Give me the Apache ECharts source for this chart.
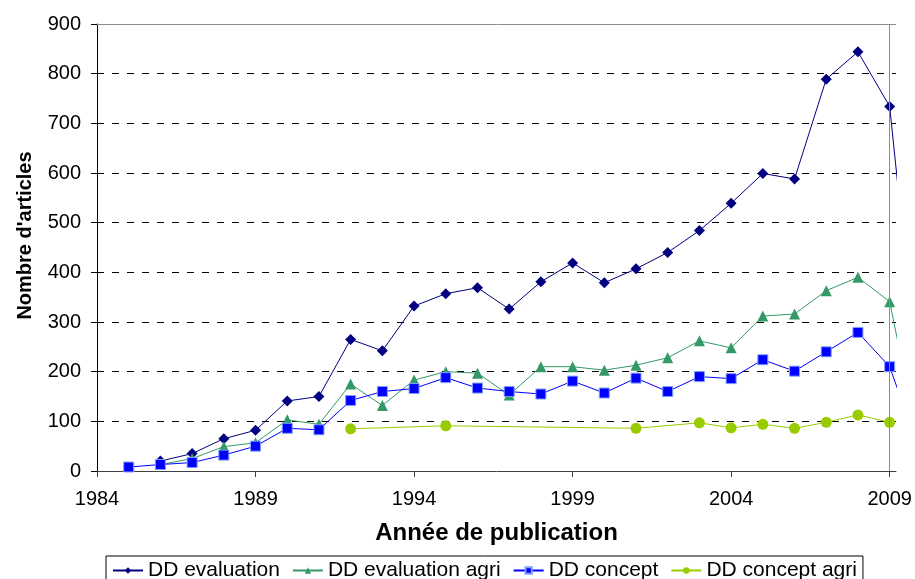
<!DOCTYPE html>
<html>
<head>
<meta charset="utf-8">
<script src="https://cdn.jsdelivr.net/npm/echarts@6/dist/echarts.min.js"></script>
<style>
  html, body { margin: 0; padding: 0; background: #fff; }
  #chart { width: 915px; height: 579px; }
</style>
</head>
<body>
<div id="chart"></div>
<script>
// données (1985 -> 2010)
var years = [1985, 1986, 1987, 1988, 1989, 1990, 1991, 1992, 1993, 1994, 1995, 1996, 1997,
  1998, 1999, 2000, 2001, 2002, 2003, 2004, 2005, 2006, 2007, 2008, 2009, 2010];
var evaluation = [null, 20, 35, 65, 82, 141, 150, 265, 242, 332, 357, 369, 326,
  381, 419, 379, 407, 440, 484, 539, 599, 588, 789, 844, 734, 117];
var evaluationAgri = [null, 13, 25, 49, 57, 103, 94, 175, 132, 183, 200, 197, 153,
  210, 210, 203, 213, 228, 262, 248, 312, 316, 363, 390, 341, 28];
var concept = [8, 13, 17, 32, 50, 86, 83, 142, 160, 166, 188, 167, 160,
  155, 181, 157, 187, 160, 190, 186, 224, 201, 240, 279, 210, 30];
var conceptAgri = [null, null, null, null, null, null, null, 85, null, null, 91, null, null,
  null, null, null, 86, null, 97, 87, 94, 86, 98, 113, 98, null];
var xTicks = [1984, 1989, 1994, 1999, 2004, 2009];
var seriesNames = ['DD evaluation', 'DD evaluation agri', 'DD concept', 'DD concept agri'];

var FONT = 'Liberation Sans, Arial, sans-serif';

function toPairs(values) {
  var out = [];
  for (var i = 0; i < years.length; i++) {
    if (values[i] !== null) out.push([years[i], values[i]]);
  }
  return out;
}

var myChart = echarts.init(document.getElementById('chart'));

var option = {
  animation: false,
  backgroundColor: '#fff',
  textStyle: { fontFamily: FONT, color: '#000' },
  grid: { left: 97, right: 19, top: 24, bottom: 108 },
  xAxis: {
    type: 'value',
    min: 1984,
    max: 2009.2,
    name: 'Année de publication',
    nameLocation: 'middle',
    nameGap: 50,
    nameTextStyle: { fontFamily: FONT, fontSize: 24, fontWeight: 'bold', color: '#000' },
    axisLine: { lineStyle: { color: '#404040', width: 1 } },
    axisTick: { customValues: xTicks, length: 6, lineStyle: { color: '#404040' } },
    axisLabel: {
      customValues: xTicks,
      formatter: function (v) { return String(v); },
      fontFamily: FONT, fontSize: 20, color: '#000', margin: 18
    },
    splitLine: { show: false }
  },
  yAxis: {
    type: 'value',
    min: 0,
    max: 900,
    interval: 100,
    name: "Nombre d'articles",
    nameLocation: 'middle',
    nameGap: 62,
    nameTextStyle: {
      fontFamily: FONT, fontSize: 20, fontWeight: 'bold', color: '#000',
      padding: [0, 0, 0, 24]
    },
    axisLine: { show: true, lineStyle: { color: '#000', width: 1 } },
    axisTick: { show: true, inside: false, length: 6, lineStyle: { color: '#000' } },
    axisLabel: { fontFamily: FONT, fontSize: 20, color: '#000', margin: 16 },
    splitLine: { show: true, lineStyle: { color: '#000', type: [7, 8], width: 1 } }
  },
  legend: {
    left: 106,
    top: 556,
    orient: 'horizontal',
    borderColor: '#000',
    borderWidth: 1,
    padding: [4, 6, 20, 6],
    itemGap: 12,
    itemWidth: 30,
    itemHeight: 8,
    textStyle: { fontFamily: FONT, fontSize: 21, color: '#000' },
    data: seriesNames
  },
  series: [
    {
      name: seriesNames[0],
      type: 'line',
      data: toPairs(evaluation),
      symbol: 'diamond',
      symbolSize: 11,
      clip: true,
      color: '#000080',
      lineStyle: { width: 1, color: '#000080' },
      itemStyle: { color: '#000080' },
      // bordure de la zone de tracé (haut et droite)
      markLine: {
        silent: true,
        symbol: 'none',
        label: { show: false },
        lineStyle: { color: '#8c8c8c', type: 'solid', width: 1 },
        data: [{ yAxis: 900 }, { xAxis: 2009 }]
      }
    },
    {
      name: seriesNames[1],
      type: 'line',
      data: toPairs(evaluationAgri),
      symbol: 'triangle',
      symbolSize: 11,
      clip: true,
      color: '#339966',
      lineStyle: { width: 1, color: '#339966' },
      itemStyle: { color: '#339966' }
    },
    {
      name: seriesNames[2],
      type: 'line',
      data: toPairs(concept),
      symbol: 'rect',
      symbolSize: 10,
      clip: true,
      color: '#0000ff',
      lineStyle: { width: 1, color: '#0000ff' },
      itemStyle: { color: '#0000ff', borderColor: '#7f9fff', borderWidth: 1 }
    },
    {
      name: seriesNames[3],
      type: 'line',
      data: toPairs(conceptAgri),
      symbol: 'circle',
      symbolSize: 11,
      clip: true,
      color: '#99cc00',
      lineStyle: { width: 1, color: '#99cc00' },
      itemStyle: { color: '#99cc00' }
    }
  ]
};

myChart.setOption(option);
</script>
</body>
</html>
